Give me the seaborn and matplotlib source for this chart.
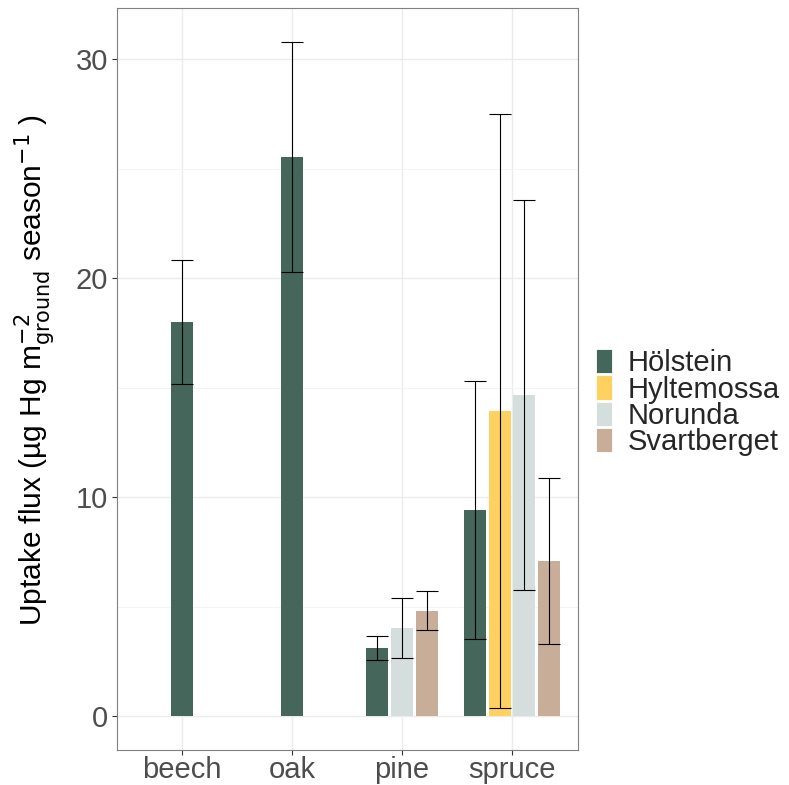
import numpy as np
import pandas as pd
import seaborn as sns
import matplotlib.pyplot as plt
from matplotlib.patches import Patch

# data (mean +/- sd)
species = ["beech", "oak", "pine", "spruce"]
sites = ["Hölstein", "Hyltemossa", "Norunda", "Svartberget"]
site_colors = ["#45665A", "#FFD160", "#D4DEDC", "#C8AD98"]

bar_species = ["beech", "oak", "pine", "pine", "pine",
               "spruce", "spruce", "spruce", "spruce"]
bar_site = ["Hölstein", "Hölstein", "Hölstein", "Norunda", "Svartberget",
            "Hölstein", "Hyltemossa", "Norunda", "Svartberget"]
flux_mean = [18.0, 25.55, 3.12, 4.02, 4.82, 9.42, 13.95, 14.68, 7.09]
flux_sd = [2.85, 5.25, 0.54, 1.37, 0.9, 5.9, 13.57, 8.9, 3.8]

df = pd.DataFrame({"species": bar_species, "site": bar_site,
                   "mean": flux_mean, "sd": flux_sd})

sns.set_theme(style="whitegrid")
plt.rcParams["font.family"] = ["Liberation Sans", "DejaVu Sans"]

fig = plt.figure(figsize=(7.89, 7.85), dpi=100)
ax = fig.add_axes([0.1483, 0.0446, 0.5843, 0.9452])

bar_w = 0.2
step = 0.225
pal = dict(zip(sites, site_colors))

for i, sp in enumerate(species):
    sub = df[df["species"] == sp].reset_index(drop=True)
    n = len(sub)
    for j, row in sub.iterrows():
        x = i + (j - (n - 1) / 2) * step
        ax.bar(x, row["mean"], width=bar_w, color=pal[row["site"]],
               edgecolor="none", zorder=2)
        ax.errorbar(x, row["mean"], yerr=row["sd"], color="black",
                    elinewidth=0.8, capsize=7.9, capthick=0.8, zorder=3)

ax.set_xlim(-0.59, 3.6)
ax.set_ylim(-1.54, 32.34)
ax.set_xticks(range(len(species)))
ax.set_xticklabels(species)
ax.set_yticks([0, 10, 20, 30])
ax.set_yticks([5, 15, 25], minor=True)

ax.grid(True, which="major", color="#EBEBEB", linewidth=1.0, zorder=0)
ax.grid(True, which="minor", axis="y", color="#F3F3F3", linewidth=0.6, zorder=0)
ax.set_axisbelow(True)
for s in ax.spines.values():
    s.set_color("#808080")
    s.set_linewidth(0.8)

ax.tick_params(axis="both", which="major", labelsize=21, labelcolor="#4D4D4D",
               length=3.5, width=0.8, color="#333333", direction="out",
               bottom=True, left=True)
ax.tick_params(axis="x", which="major", pad=1)
ax.tick_params(axis="y", which="major", pad=3)
ax.tick_params(axis="both", which="minor", length=0)

ax.set_xlabel("")
ax.set_ylabel("Uptake flux (µg Hg m$^{-2}_{\\mathrm{ground}}$ season$^{-1}$ )",
              fontsize=21.5, color="black")
ax.yaxis.set_label_coords(-0.131, 0.512)

handles = [Patch(facecolor=c, edgecolor="white", linewidth=0.6) for c in site_colors]
fig.legend(handles, sites, loc="center left", bbox_to_anchor=(0.7554, 0.487),
           frameon=False, fontsize=21, handlelength=0.55, handleheight=0.9,
           labelspacing=-0.06, handletextpad=0.55, borderaxespad=0,
           borderpad=0)

fig.savefig("out.png", dpi=100)
